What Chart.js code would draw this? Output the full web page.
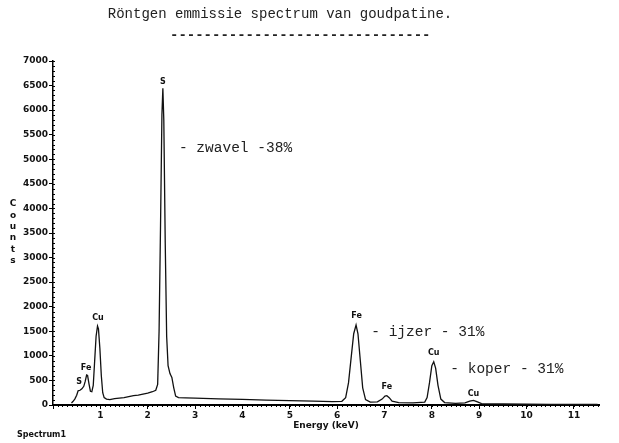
<!DOCTYPE html>
<html>
<head>
<meta charset="utf-8">
<script src="https://cdn.jsdelivr.net/npm/chart.js@4.4.1/dist/chart.umd.min.js"></script>
<style>
html,body{margin:0;padding:0;background:#fff;}
canvas{display:block;}
</style>
</head>
<body>
<canvas id="c" width="619" height="443"></canvas>
<script>
// ---- data ----
const energyKeV = [0.39,0.42,0.46,0.50,0.53,0.57,0.61,0.65,0.68,0.71,0.73,0.76,0.79,0.82,0.85,0.88,0.91,0.94,0.96,0.99,1.02,1.05,1.08,1.13,1.2,1.3,1.4,1.5,1.6,1.7,1.8,1.9,2.0,2.1,2.17,2.21,2.24,2.27,2.30,2.32,2.34,2.37,2.40,2.43,2.47,2.51,2.55,2.59,2.65,2.8,3.0,3.5,4.0,4.5,5.0,5.5,5.9,6.1,6.18,6.24,6.30,6.35,6.40,6.44,6.49,6.54,6.60,6.7,6.85,6.95,7.01,7.05,7.10,7.16,7.3,7.6,7.85,7.9,7.95,8.0,8.04,8.08,8.13,8.19,8.27,8.5,8.7,8.8,8.88,8.95,9.05,9.5,10,10.5,11,11.5];
const counts    = [40,70,120,200,290,300,330,380,480,610,600,430,280,270,400,900,1400,1608,1550,1150,600,250,150,120,110,130,140,150,170,190,200,220,240,270,300,420,1500,3600,5900,6444,5800,3300,1400,800,640,560,350,180,150,145,140,125,115,100,90,80,70,75,150,450,1000,1450,1628,1450,900,350,110,60,65,120,180,190,150,80,50,45,60,150,450,800,881,750,400,120,50,35,45,80,95,70,30,20,15,12,10,10];

const xTickValues = [1,2,3,4,5,6,7,8,9,10,11];
const yTickStep = 500;

const peakLabels      = ['S','Fe','Cu','S','Fe','Fe','Cu','Cu'];
const peakLabelKeV    = [0.55,0.70,0.95,2.32,6.41,7.05,8.04,8.88];
const peakLabelCounts = [474,747,1764,6579,1811,360,1052,218];

const noteTexts  = ['- zwavel -38%','- ijzer - 31%','- koper - 31%'];
const noteKeV    = [2.66,6.72,8.39];
const noteCounts = [5224,1486,733];

const chartTitle = 'Röntgen emmissie spectrum van goudpatine.';
const titleRule  = '-------------------------------';
const xAxisTitle = 'Energy (keV)';
const yAxisTitle = 'Counts';
const footerText = 'Spectrum1';

// ---- chart ----
const points = energyKeV.map((e,i)=>({x:e,y:counts[i]}));
const tickFont = {family:'DejaVu Sans', size:9, weight:'bold'};

const textPlugin = {
  id:'texts',
  afterDraw(chart){
    const ctx = chart.ctx, xs = chart.scales.x, ys = chart.scales.y;
    const ca = chart.chartArea;
    ctx.save();
    // minor ticks
    ctx.strokeStyle = '#000'; ctx.lineWidth = 1;
    for(let v=0; v<=7000; v+=100){
      const py = Math.round(ys.getPixelForValue(v))+0.5;
      ctx.beginPath(); ctx.moveTo(ca.left-1, py); ctx.lineTo(ca.left+2, py); ctx.stroke();
    }
    for(let v=0; v<=11.5; v+=0.1){
      const px = Math.round(xs.getPixelForValue(v))+0.5;
      ctx.beginPath(); ctx.moveTo(px, ca.bottom); ctx.lineTo(px, ca.bottom+2); ctx.stroke();
    }
    // title
    ctx.fillStyle = '#222';
    ctx.font = '14px "Liberation Mono"';
    ctx.textBaseline = 'middle';
    ctx.textAlign = 'center';
    ctx.fillText(chartTitle, 280, 14);
    ctx.textAlign = 'left';
    ctx.font = 'bold 14px "Liberation Mono"';
    ctx.fillText(titleRule, 170, 35);
    // notes
    ctx.font = '14.5px "Liberation Mono"';
    noteTexts.forEach((t,i)=>{
      ctx.fillText(t, xs.getPixelForValue(noteKeV[i]), ys.getPixelForValue(noteCounts[i]));
    });
    // peak labels
    ctx.fillStyle = '#111';
    ctx.font = 'bold 8px "DejaVu Sans"';
    ctx.textAlign = 'center';
    peakLabels.forEach((t,i)=>{
      ctx.fillText(t, xs.getPixelForValue(peakLabelKeV[i]), ys.getPixelForValue(peakLabelCounts[i]));
    });
    // y axis title, stacked letters
    ctx.font = 'bold 9px "DejaVu Sans"';
    const letters = yAxisTitle.split('');
    letters.forEach((ch,i)=>{
      ctx.fillText(ch, 13, 204 + i*11.3);
    });
    // x axis title
    ctx.fillText(xAxisTitle, (ca.left+ca.right)/2, 426);
    // footer
    ctx.textAlign = 'left';
    ctx.font = 'bold 8px "DejaVu Sans"';
    ctx.fillText(footerText, 17, 435);
    ctx.restore();
  }
};

new Chart(document.getElementById('c'), {
  type:'scatter',
  data:{datasets:[{
    data:points,
    showLine:true,
    borderColor:'#111',
    borderWidth:1.3,
    pointRadius:0,
    tension:0,
    fill:false
  }]},
  options:{
    responsive:false,
    animation:false,
    events:[],
    layout:{padding:{top:61,right:20,left:0,bottom:0}},
    plugins:{legend:{display:false},tooltip:{enabled:false},title:{display:false}},
    scales:{
      x:{
        type:'linear', min:0, max:11.53,
        afterFit(s){ s.height = 38; },
        afterBuildTicks(s){ s.ticks = [0].concat(xTickValues).map(v=>({value:v})); },
        border:{color:'#000', width:2},
        grid:{display:true, drawOnChartArea:false, drawTicks:true, tickLength:4, color:'#000'},
        ticks:{color:'#111', font:tickFont, padding:1, maxRotation:0, autoSkip:false,
               callback:(v)=> v===0 ? '' : String(v)}
      },
      y:{
        min:0, max:7000,
        afterFit(s){ s.width = 53; },
        afterBuildTicks(s){ const t=[]; for(let v=0; v<=7000; v+=yTickStep) t.push({value:v}); s.ticks=t; },
        border:{color:'#000', width:1.5},
        grid:{display:true, drawOnChartArea:false, drawTicks:true, tickLength:4, color:'#000'},
        ticks:{color:'#111', font:tickFont, padding:1, autoSkip:false,
               callback:(v)=> String(v)}
      }
    }
  },
  plugins:[textPlugin]
});
</script>
</body>
</html>
